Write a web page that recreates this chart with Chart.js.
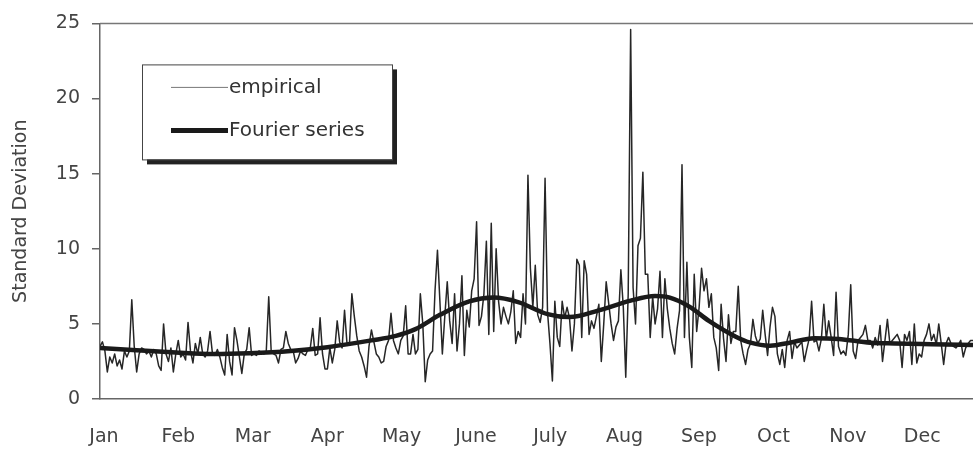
<!DOCTYPE html>
<html>
<head>
<meta charset="utf-8">
<script src="https://cdn.jsdelivr.net/npm/chart.js@4/dist/chart.umd.min.js"></script>
<style>
  html, body { margin: 0; padding: 0; background: #fff; }
  #wrap { width: 973px; height: 451px; position: relative; }
</style>
</head>
<body>
<div id="wrap"><canvas id="c" width="973" height="451"></canvas></div>
<script>
// ---- data ----
const monthLabels = ['Jan','Feb','Mar','Apr','May','June','July','Aug','Sep','Oct','Nov','Dec'];
const monthTickDays = [0, 30.4, 60.8, 91.3, 121.7, 152.1, 182.5, 212.9, 243.3, 273.8, 304.2, 334.6];
const yTicks = [0, 5, 10, 15, 20, 25];

// daily empirical standard deviation, day 0 .. 357
const empirical = [
  3.5,3.8,3.2,1.8,2.8,2.4,3.0,2.2,2.6,2.0, 3.2,2.8,3.2,6.6,3.5,1.8,3.0,3.4,3.3,3.0,
  3.2,2.8,3.3,3.0,2.2,1.9,5.0,3.0,2.5,3.4, 1.8,3.0,
  3.9,2.8,3.0,2.6,5.1,3.2,2.4,3.7,3.0,4.1, 3.0,2.8,3.2,4.5,3.0,2.9,3.3,2.8,2.1,1.6,
  4.3,2.5,1.6,4.75,3.9,2.8,1.7,3.0,3.3,4.75, 2.9,
  3.0,2.9,3.2,3.1,3.0,3.2,6.8,3.2,3.0,2.9, 2.4,3.3,3.4,4.5,3.7,3.3,3.2,2.4,2.7,3.2,
  3.0,2.9,3.3,3.4,4.7,2.9,3.0,5.4,3.0,2.0, 2.0,
  3.4,2.4,3.3,5.2,3.8,3.4,5.9,3.7,3.6,7.0, 5.5,4.2,3.2,2.8,2.2,1.45,3.5,4.6,3.8,3.0,
  2.8,2.4,2.5,3.5,3.9,5.7,3.9,3.4,3.0,3.9, 4.2,6.2,
  3.0,3.0,4.3,3.0,3.3,7.0,5.0,1.15,2.6,3.0, 3.2,7.2,9.9,6.5,3.0,5.5,7.8,5.2,3.7,7.0,
  3.2,5.0,8.2,2.9,5.9,4.8,7.2,8.0,11.8,4.9, 5.5,7.0,10.5,4.3,11.7,
  4.5,10.0,6.5,5.0,6.1,5.5,5.0,5.8,7.2,3.7, 4.5,4.1,7.0,5.0,14.9,8.7,6.1,8.9,5.6,5.1,
  6.1,14.7,5.8,3.7,1.2,6.5,4.1,3.5,6.5,5.4, 6.1,5.4,3.2,
  5.0,9.3,8.9,4.1,9.2,8.3,4.3,5.2,4.7,5.5, 6.3,2.5,5.0,7.8,6.4,5.0,3.9,4.8,5.2,8.6,
  6.1,1.45,7.0,24.6,7.4,5.0,10.2,10.7,15.1,8.3, 8.3,4.1,6.8,
  5.0,6.0,8.5,4.1,8.0,6.0,4.7,3.7,3.0,4.7, 5.9,15.6,4.1,9.1,4.1,2.1,8.3,4.5,6.1,8.7,
  7.2,8.0,6.1,7.0,4.1,3.4,1.9,6.3,4.0,2.5, 5.6,3.7,
  4.5,4.5,7.5,3.9,3.0,2.3,3.3,3.7,5.3,4.2, 3.7,4.0,5.9,4.3,2.9,4.8,6.1,5.5,3.0,2.3,
  3.3,2.1,3.9,4.5,2.7,3.8,3.4,3.6,3.8,2.5, 3.3,4.0,6.5,3.8,
  3.9,3.2,4.0,6.3,4.0,5.2,4.1,2.9,7.1,3.5, 3.0,3.2,2.9,4.3,7.6,3.2,2.7,3.9,4.1,4.3,
  4.9,3.9,3.9,3.4,4.1,3.6,4.9,2.5,3.9,5.3, 3.7,3.9,
  4.1,4.3,3.9,2.1,4.3,3.9,4.5,2.3,5.0,2.4, 3.0,2.8,3.9,4.3,5.0,3.9,4.3,3.6,5.0,3.7,
  2.3,3.7,4.1,3.7,3.5,3.4,3.6,3.9,2.8,3.4, 3.7,3.9,3.9
];

// Fourier-series fit, read at selected days
const fourierDays   = [0, 15, 31, 46, 61, 78, 93, 111, 121, 129, 139, 151, 161, 171, 183, 192, 204, 217, 227, 233, 241, 249, 260, 266, 274, 282, 292, 302, 315, 325, 340, 357];
const fourierValues = [3.4, 3.25, 3.1, 3.0, 3.05, 3.2, 3.45, 3.9, 4.2, 4.65, 5.6, 6.5, 6.75, 6.45, 5.65, 5.45, 5.9, 6.55, 6.85, 6.75, 6.15, 5.2, 4.15, 3.75, 3.55, 3.75, 4.05, 4.0, 3.75, 3.7, 3.65, 3.6];

const seriesNames = ['empirical', 'Fourier series'];

// ---- chart ----
Chart.defaults.font.family = "'DejaVu Sans', sans-serif";

const topBorder = {
  id: 'topBorder',
  beforeDatasetsDraw(chart) {
    const {ctx, chartArea} = chart;
    ctx.save();
    ctx.strokeStyle = '#777';
    ctx.lineWidth = 1.5;
    ctx.beginPath();
    ctx.moveTo(chartArea.left, chartArea.top);
    ctx.lineTo(chartArea.right, chartArea.top);
    ctx.stroke();
    ctx.restore();
  }
};

const boxLegend = {
  id: 'boxLegend',
  afterDraw(chart) {
    const {ctx, chartArea} = chart;
    const x = chartArea.left + 42, y = chartArea.top + 41, w = 250, h = 95;
    ctx.save();
    ctx.fillStyle = '#222';
    ctx.fillRect(x + 5, y + 5, w, h);
    ctx.fillStyle = '#fff';
    ctx.fillRect(x, y, w, h);
    ctx.strokeStyle = '#444';
    ctx.lineWidth = 1;
    ctx.strokeRect(x + 0.5, y + 0.5, w, h);
    const rows = [
      {ds: chart.data.datasets[1], cy: y + 23},
      {ds: chart.data.datasets[0], cy: y + 66}
    ];
    ctx.font = "20px 'DejaVu Sans', sans-serif";
    ctx.textBaseline = 'middle';
    ctx.textAlign = 'left';
    rows.forEach(r => {
      ctx.strokeStyle = r.ds.legendColor;
      ctx.lineWidth = r.ds.legendWidth;
      ctx.beginPath();
      ctx.moveTo(x + 29, r.cy);
      ctx.lineTo(x + 86, r.cy);
      ctx.stroke();
      ctx.fillStyle = '#333';
      ctx.fillText(r.ds.label, x + 87, r.cy);
    });
    ctx.restore();
  }
};

new Chart(document.getElementById('c'), {
  type: 'line',
  data: {
    datasets: [
      {
        label: seriesNames[1],
        data: fourierDays.map((d, i) => ({x: d, y: fourierValues[i]})),
        borderColor: '#1a1a1a',
        borderWidth: 4.5,
        legendColor: '#1a1a1a',
        legendWidth: 5,
        pointRadius: 0,
        cubicInterpolationMode: 'monotone',
        order: 0
      },
      {
        label: seriesNames[0],
        data: empirical.map((v, i) => ({x: i, y: v})),
        borderColor: '#262626',
        borderWidth: 1.5,
        legendColor: '#777',
        legendWidth: 1,
        borderJoinStyle: 'round',
        pointRadius: 0,
        tension: 0,
        order: 1
      }
    ]
  },
  options: {
    responsive: false,
    animation: false,
    devicePixelRatio: 1,
    layout: { padding: { top: 19, right: 0, bottom: 0, left: 0 } },
    plugins: { legend: { display: false }, tooltip: { enabled: false } },
    scales: {
      x: {
        type: 'linear',
        min: 0,
        max: 357,
        afterBuildTicks: s => { s.ticks = monthTickDays.map(v => ({value: v})); },
        afterFit: s => { s.height = 52; },
        grid: { display: false, drawTicks: false },
        border: { display: true, color: '#666', width: 1.5 },
        ticks: {
          autoSkip: false,
          maxRotation: 0,
          padding: 27,
          labelOffset: 4,
          color: '#444',
          font: { size: 19 },
          callback: (v) => {
            const i = monthTickDays.indexOf(v);
            return i >= 0 ? monthLabels[i] : '';
          }
        }
      },
      y: {
        min: 0,
        max: 25,
        afterBuildTicks: s => { s.ticks = yTicks.map(v => ({value: v})); },
        afterFit: s => { s.width = 100; },
        grid: { display: true, drawOnChartArea: false, drawTicks: true, tickLength: 8, color: '#666', lineWidth: 1.5 },
        border: { display: true, color: '#666', width: 1.5 },
        ticks: { padding: 12, color: '#444', font: { size: 19 } },
        title: {
          display: true,
          text: 'Standard Deviation',
          color: '#444',
          font: { size: 19 },
          padding: { top: 10, bottom: 0 }
        }
      }
    }
  },
  plugins: [topBorder, boxLegend]
});
</script>
</body>
</html>
